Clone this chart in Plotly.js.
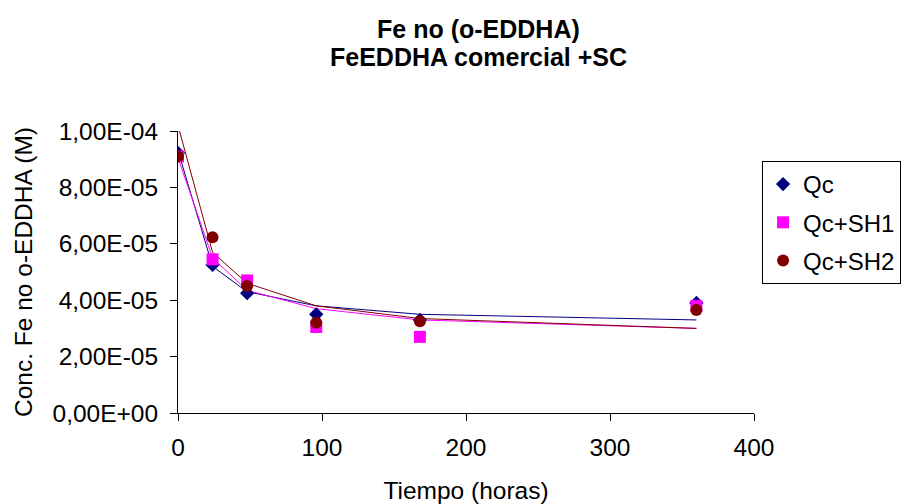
<!DOCTYPE html>
<html>
<head>
<meta charset="utf-8">
<script src="https://cdn.plot.ly/plotly-3.0.1.min.js"></script>
<style>html,body{margin:0;padding:0;background:#fff;}#chart{width:901px;height:504px;}</style>
</head>
<body>
<div id="chart"></div>
<script>
// Time (hours)
const tiempo = [0, 24, 48, 96, 168, 360];
// Measured concentrations (M)
const qc    = [9.22e-5, 5.25e-5, 4.25e-5, 3.5e-5, 3.3e-5, 3.9e-5];
const qcSH1 = [9.1e-5, 5.45e-5, 4.7e-5, 3.05e-5, 2.7e-5, 3.8e-5];
const qcSH2 = [9.1e-5, 6.23e-5, 4.5e-5, 3.2e-5, 3.25e-5, 3.65e-5];
// Fitted curves (M)
const fitQc    = [9.3e-5, 5.2e-5, 4.3e-5, 3.8e-5, 3.5e-5, 3.3e-5];
const fitQcSH1 = [9.05e-5, 5.5e-5, 4.35e-5, 3.7e-5, 3.3e-5, 3.0e-5];
const fitQcSH2 = [1.02e-4, 5.7e-5, 4.6e-5, 3.8e-5, 3.35e-5, 3.0e-5];
// Axis ticks
const yTickVals = [0, 2e-5, 4e-5, 6e-5, 8e-5, 1e-4];
const yTickText = ["0,00E+00", "2,00E-05", "4,00E-05", "6,00E-05", "8,00E-05", "1,00E-04"];
const xTickVals = [0, 100, 200, 300, 400];
const titleLines = ["Fe no (o-EDDHA)", "FeEDDHA comercial +SC"];

const names = ["Qc", "Qc+SH1", "Qc+SH2"];
const colors = ["#000080", "#FF00FF", "#800000"];
const symbols = ["diamond", "square", "circle"];
const sizes = [11, 12, 12];
const measured = [qc, qcSH1, qcSH2];
const fits = [fitQc, fitQcSH1, fitQcSH2];

const traces = [];
fits.forEach((f, i) => {
  traces.push({x: tiempo, y: f, type: 'scatter', mode: 'lines', showlegend: false,
    line: {color: colors[i], width: 1}, hoverinfo: 'skip'});
});
measured.forEach((m, i) => {
  traces.push({x: tiempo, y: m, type: 'scatter', mode: 'markers', name: names[i],
    legendgroup: 'g' + i,
    marker: {symbol: symbols[i], color: colors[i], size: sizes[i], line: {width: 0}}});
});

const font = "Arial, 'Liberation Sans', sans-serif";
const layout = {
  width: 901, height: 504,
  paper_bgcolor: '#fff', plot_bgcolor: '#fff',
  margin: {l: 178, r: 147, t: 131, b: 91, pad: 0, autoexpand: false},
  font: {family: font, size: 24, color: '#000'},
  title: {text: "<b>" + titleLines[0] + "</b>",
    font: {family: font, size: 25, color: '#000'},
    xref: 'container', x: 0.531, xanchor: 'center',
    yref: 'container', y: 1 - 29 / 504, yanchor: 'middle'},
  annotations: [{text: "<b>" + titleLines[1] + "</b>", xref: 'paper', yref: 'paper',
    x: 0.5217, y: (413 - 57.5) / 282, xanchor: 'center', yanchor: 'middle', showarrow: false,
    font: {family: font, size: 25, color: '#000'}}],
  xaxis: {range: [0, 400], tickvals: xTickVals, ticks: 'outside', ticklen: 7, tickwidth: 1,
    tickcolor: '#000', showline: true, linecolor: '#000', linewidth: 1, showgrid: false,
    zeroline: false, ticklabelstandoff: 6,
    tickfont: {family: font, size: 24.5, color: '#000'},
    title: {text: "Tiempo (horas)", font: {family: font, size: 24.5, color: '#000'}, standoff: 23}},
  yaxis: {range: [0, 1e-4], tickvals: yTickVals, ticktext: yTickText, ticks: 'outside', ticklen: 7,
    tickwidth: 1, tickcolor: '#000', showline: true, linecolor: '#000', linewidth: 1,
    showgrid: false, zeroline: false, ticklabelstandoff: 7,
    tickfont: {family: font, size: 24.5, color: '#000'},
    title: {text: "Conc. Fe no o-EDDHA (M)", font: {family: font, size: 24.5, color: '#000'}, standoff: 12}},
  legend: {x: 1.014, xanchor: 'left', y: (413 - 161) / 282, yanchor: 'top',
    bordercolor: '#000', borderwidth: 1, bgcolor: '#fff',
    font: {family: font, size: 24, color: '#000'},
    traceorder: 'grouped', tracegroupgap: 4, itemwidth: 30},
  showlegend: true
};

Plotly.newPlot('chart', traces, layout, {displayModeBar: false, staticPlot: true});
</script>
</body>
</html>
